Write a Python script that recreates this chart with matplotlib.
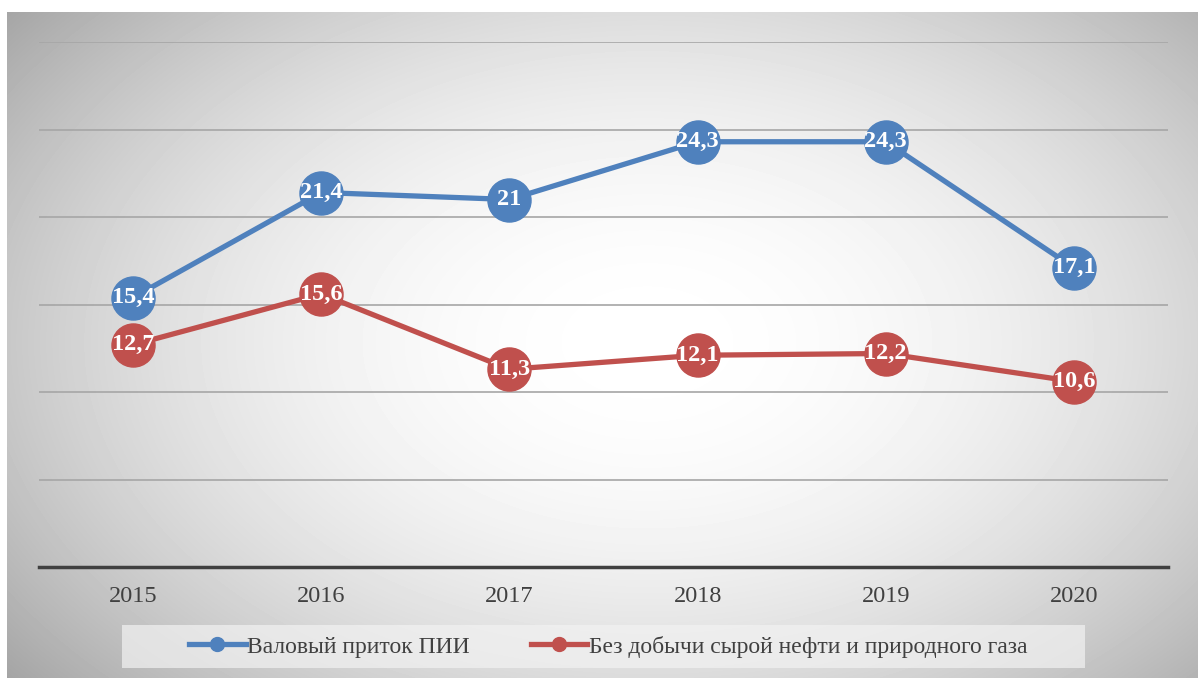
import matplotlib.pyplot as plt
import numpy as np
from matplotlib.lines import Line2D
from matplotlib.patches import Rectangle

years = ["2015", "2016", "2017", "2018", "2019", "2020"]
gross_fdi = [15.4, 21.4, 21.0, 24.3, 24.3, 17.1]
non_oil_gas = [12.7, 15.6, 11.3, 12.1, 12.2, 10.6]
series_names = ["Валовый приток ПИИ", "Без добычи сырой нефти и природного газа"]

blue = "#4f81bd"
red = "#c0504d"
serif = ["Liberation Serif", "DejaVu Serif"]


def fmt(v):
    s = f"{v:.1f}".replace(".", ",")
    return s[:-2] if s.endswith(",0") else s


fig = plt.figure(figsize=(11.98, 6.78), dpi=100)

# radial grey-to-white backdrop
bg = fig.add_axes([7 / 1198, 0, 1191 / 1198, 666 / 678], zorder=-10)
h, w = 666, 1191
yy, xx = np.mgrid[0:h, 0:w]
d = np.sqrt(((xx - 640) / 720) ** 2 + ((yy - 330) / 470) ** 2)
shade = 255 - 70 * np.clip(d, 0, 1.2) ** 2
bg.imshow(shade, cmap="gray", vmin=0, vmax=255, aspect="auto", interpolation="bilinear")
bg.axis("off")

ax = fig.add_axes([39 / 1198, 111 / 678, 1129 / 1198, 525 / 678])
ax.set_facecolor("none")
x = np.arange(len(years))

ax.set_xlim(-0.5, len(years) - 0.5)
ax.set_ylim(0, 30)
ax.set_yticks(np.arange(5, 31, 5))
ax.set_yticklabels([])
ax.tick_params(axis="y", length=0)
ax.grid(axis="y", color="#a6a6a6", linewidth=1.2)
ax.set_axisbelow(True)
for s in ["top", "left", "right"]:
    ax.spines[s].set_visible(False)
ax.spines["bottom"].set_color("#404040")
ax.spines["bottom"].set_linewidth(2.5)
ax.set_xticks(x)
ax.set_xticklabels(years, family=serif, fontsize=17.5, color="#404040")
ax.tick_params(axis="x", length=0, pad=14)

for vals, col in [(gross_fdi, blue), (non_oil_gas, red)]:
    ax.plot(x, vals, color=col, linewidth=3.8, marker="o", markersize=31,
            markeredgecolor=col, zorder=3, clip_on=False)
    for xi, v in zip(x, vals):
        ax.text(xi, v, fmt(v), ha="center", va="center", color="white",
                fontsize=17.5, fontweight="bold", family=serif, zorder=4)

# legend panel
fig.patches.append(Rectangle((122 / 1198, 10 / 678), 963 / 1198, 43 / 678,
                             transform=fig.transFigure, facecolor="#f2f2f2",
                             alpha=0.7, edgecolor="none", zorder=-5))
handles = [Line2D([], [], color=c, linewidth=3.8, marker="o", markersize=10)
           for c in (blue, red)]
fig.legend(handles, series_names, loc="center", bbox_to_anchor=(0.5075, 31.5 / 678),
           ncol=2, frameon=False, prop={"family": serif, "size": 17},
           labelcolor="#404040", handlelength=2.4, handletextpad=0.05,
           columnspacing=2.6)

fig.savefig("out.png", dpi=100)
